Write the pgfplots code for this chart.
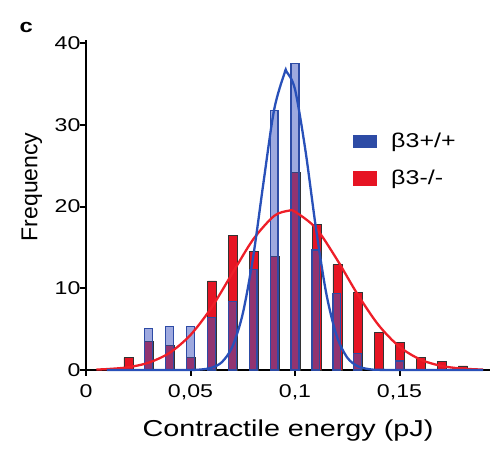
\documentclass[border=0pt]{standalone}
\usepackage{fontspec}
\setmainfont{Liberation Sans}[FakeStretch=1.25]
\newfontfamily\plainfont{Liberation Sans}
\usepackage{pgfplots}
\pgfplotsset{compat=1.18}
\definecolor{bblue}{RGB}{45,75,165}
\definecolor{bfill}{RGB}{62,84,192}
\definecolor{cblue}{RGB}{40,80,185}
\definecolor{rred}{RGB}{230,20,35}
\definecolor{cred}{RGB}{238,30,40}
\begin{document}
\begin{tikzpicture}
\begin{axis}[
  scale only axis,
  width=404pt, height=330pt,
  xmin=0, xmax=0.1933,
  ymin=0, ymax=40.4,
  axis lines=left,
  axis line style={-, line width=2.2pt, black},
  tick align=outside,
  major tick length=6pt,
  tick style={line width=2pt, black},
  xtick={0,0.05,0.1,0.15},
  xticklabels={0,{0,05},{0,1},{0,15}},
  ytick={0,10,20,30,40},
  /pgf/number format/assume math mode=true,
  tick label style={font=\fontsize{18.5}{20}\selectfont},
  xticklabel style={yshift=-5pt},
  yticklabel style={xshift=4pt},
  xlabel={Contractile energy (pJ)},
  xlabel style={font=\fontsize{23}{26}\selectfont, at={(axis description cs:0.5,-0.185)}, anchor=center},
  ylabel={Frequency},
  ylabel style={font=\plainfont\fontsize{23}{26}\selectfont, at={(axis description cs:-0.134,0.555)}, anchor=center, rotate=0},
  legend style={draw=none, fill=none, at={(0.66,0.725)}, anchor=north west,
    font=\fontsize{20}{22}\selectfont, row sep=17pt, inner sep=0pt},
  legend cell align=left,
  clip=false,
]
% red bars (beta3 -/-)
\addplot[ybar, bar width=0.0043, bar shift=0.6pt, fill=rred, draw=black!80, line width=0.7pt, forget plot]
coordinates {
(0.02,1.5) (0.03,3.5) (0.04,3.0) (0.05,1.5) (0.06,10.9) (0.07,16.5) (0.08,14.5)
(0.09,13.9) (0.10,24.2) (0.11,17.8) (0.12,12.9) (0.13,9.5) (0.14,4.6) (0.15,3.4)
(0.16,1.5) (0.17,1.0) (0.18,0.5)
};
% blue bars (beta3 +/+)
\addplot[ybar, bar width=0.0037, bar shift=0pt, fill=bfill, fill opacity=0.5, draw=bblue, draw opacity=1, line width=1.3pt, forget plot]
coordinates {
(0.03,5.1) (0.04,5.3) (0.05,5.3) (0.06,6.4) (0.07,8.4) (0.08,12.3)
(0.09,31.8) (0.10,37.5) (0.11,14.7) (0.12,9.4) (0.13,2.0) (0.15,1.1)
};
% red fitted curve
\addplot[cred, line width=2.3pt, smooth, forget plot]
coordinates {
(0.005,0.06) (0.01,0.11) (0.02,0.33) (0.03,0.90) (0.04,2.10) (0.05,4.29)
(0.06,7.62) (0.07,11.83) (0.08,15.99) (0.09,18.86) (0.097,19.5) (0.10,19.38)
(0.11,17.37) (0.12,13.56) (0.13,9.24) (0.14,5.49) (0.15,2.84) (0.16,1.28)
(0.17,0.50) (0.18,0.17) (0.19,0.05)
};
% blue fitted curve
\addplot[cblue, line width=2.3pt, smooth, forget plot]
coordinates {
(0.01,0) (0.03,0) (0.05,0.01) (0.055,0.06) (0.06,0.27) (0.065,0.96) (0.07,2.83)
(0.075,6.89) (0.08,13.87) (0.085,23.1) (0.09,31.85) (0.095,36.36) (0.096,36.5)
(0.10,34.36) (0.105,26.87) (0.11,17.40) (0.115,9.32) (0.12,4.13) (0.125,1.52)
(0.13,0.46) (0.135,0.12) (0.14,0.02) (0.16,0) (0.19,0)
};
\addlegendimage{legend image code/.code={\fill[bblue] (0pt,-6pt) rectangle (23pt,6pt); \path (36pt,0pt);}}
\addlegendentry{β3+/+}
\addlegendimage{legend image code/.code={\fill[rred] (0pt,-7pt) rectangle (23pt,7pt); \path (36pt,0pt);}}
\addlegendentry{β3-/-}
\node[font=\bfseries\fontsize{19}{20}\selectfont, anchor=base west] at ([xshift=-70pt, yshift=7pt]current axis.north west) {c};
\end{axis}
\pgfresetboundingbox
\path (current axis.south west) ++(-86pt,-82pt) rectangle ++(493pt,452pt);
\end{tikzpicture}
\end{document}
